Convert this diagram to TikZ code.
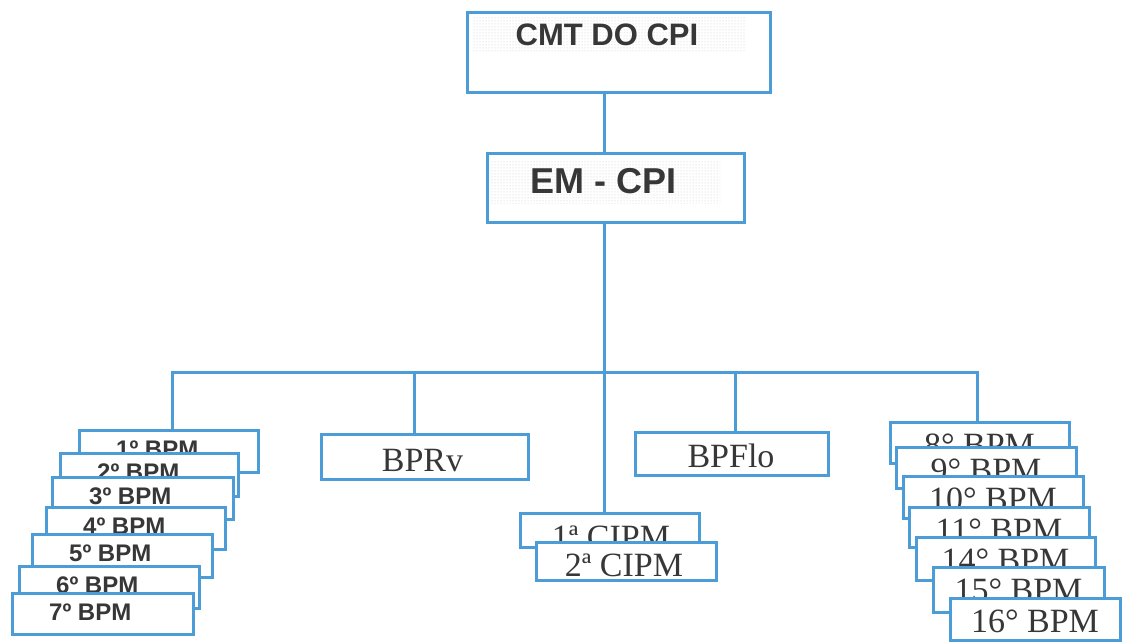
\documentclass[tikz,border=0pt]{standalone}
\usepackage{fontspec}
\setmainfont{Liberation Serif}
\setsansfont{Liberation Sans}
\usetikzlibrary{patterns}
\definecolor{boxblue}{RGB}{76,156,216}
\definecolor{txt}{RGB}{55,55,55}
\newcommand\lbox[6]{%
  \node[box, minimum width={(#4-#2)*1pt}, minimum height={(#5-#3)*1pt}] (#1) at (#2,#3) {};
  \node[lsans] (#1t) at (#2+37,#3+27) {#6};}
\newcommand\rbox[6]{%
  \node[box, minimum width={(#4-#2)*1pt}, minimum height={(#5-#3)*1pt}] (#1) at (#2,#3) {};
  \node[rserif] (#1t) at ({(#2+#4)/2},#3+34) {#6};}
\begin{document}
\begin{tikzpicture}[x=1pt,y=-1pt,
  box/.style={draw=boxblue, line width=3pt, fill=white, rectangle, inner sep=0pt, outer sep=0pt, anchor=north west},
  conn/.style={draw=boxblue, line width=3pt},
  lsans/.style={font=\fontsize{24}{24}\selectfont\sffamily\bfseries, text=txt, inner sep=0pt, anchor=base west},
  rserif/.style={font=\fontsize{34}{34}\selectfont\rmfamily, text=txt, inner sep=0pt, anchor=base},
  topsans/.style={text=txt, inner sep=0pt, anchor=base},
  dotfill/.style={pattern=dots, pattern color=black!22}
]
\useasboundingbox (0,0) rectangle (1122,642);
\fill[white] (0,0) rectangle (1122,642);

% coordinates for connectors
\coordinate (vx) at (604,0);
\coordinate (busL) at (172,372);
\coordinate (busR) at (977,372);
\coordinate (dRv) at (414,372);
\coordinate (dFlo) at (735,372);

% top boxes
\node[box, minimum width=303pt, minimum height=79pt] (cmt) at (467,13) {};
\fill[dotfill] (473,17) rectangle (745,53);
\node[topsans, font=\fontsize{31}{31}\selectfont\sffamily\bfseries] (cmtt) at (607,46) {CMT DO CPI};

\node[box, minimum width=257pt, minimum height=69pt] (em) at (487,153) {};
\fill[dotfill] (490,160) rectangle (720,203);
\node[topsans, font=\fontsize{36}{36}\selectfont\sffamily\bfseries] (emt) at (603.5,193) {EM - CPI};

% single boxes
\node[box, minimum width=207pt, minimum height=45pt] (bprv) at (321,434) {};
\node[rserif] (bprvt) at (422.5,471) {BPRv};
\node[box, minimum width=193pt, minimum height=43pt] (bpflo) at (635,432) {};
\node[rserif] (bpflot) at (731,467) {BPFlo};

% connectors
\draw[conn] (vx |- cmt.south) -- (vx |- em.north);
\draw[conn] (vx |- em.south) -- (vx |- 0,513);
\draw[conn] (busL |- 0,430) -- (busL) -- (busR) -- (busR |- 0,422);
\draw[conn] (dRv) -- (dRv |- bprv.north);
\draw[conn] (dFlo) -- (dFlo |- bpflo.north);

% left stack
\lbox{b1}{79}{430}{258}{472}{1º BPM}
\lbox{b2}{60}{453}{238}{496}{2º BPM}
\lbox{b3}{52}{477}{233}{519}{3º BPM}
\lbox{b4}{46}{507}{225}{549}{4º BPM}
\lbox{b5}{32}{534}{212}{577}{5º BPM}
\lbox{b6}{19}{566}{199}{608}{6º BPM}
\lbox{b7}{12}{593}{193}{634}{7º BPM}

% CIPM
\node[box, minimum width=179pt, minimum height=34pt] (c1) at (520,513) {};
\node[rserif] (c1t) at (611,548) {1ª CIPM};
\node[box, minimum width=180pt, minimum height=38pt] (c2) at (536,542) {};
\node[rserif] (c2t) at (624,576) {2ª CIPM};

% right stack
\rbox{b8}{890}{422}{1069}{463}{8° BPM}
\rbox{b9}{896}{447}{1076}{488}{9° BPM}
\rbox{b10}{903}{476}{1083}{518}{10° BPM}
\rbox{b11}{909}{507}{1089}{547}{11° BPM}
\rbox{b14}{916}{537}{1095}{580}{14° BPM}
\rbox{b15}{933}{567}{1104}{612}{15° BPM}
\rbox{b16}{950}{598}{1120}{640}{16° BPM}
\end{tikzpicture}
\end{document}
